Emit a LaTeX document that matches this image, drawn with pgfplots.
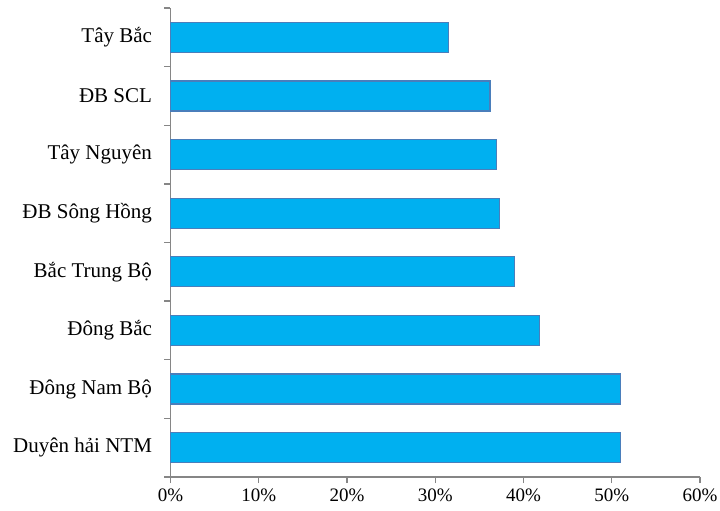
\documentclass[border=0pt]{standalone}
\usepackage{pgfplots}
\pgfplotsset{compat=1.18}
\usetikzlibrary{calc}
\usepackage{fontspec}
\setmainfont{Liberation Serif}
\definecolor{barfill}{HTML}{00B0F0}
\definecolor{barline}{HTML}{4A7EBB}
\definecolor{axisgray}{HTML}{868686}
\begin{document}
\begin{tikzpicture}
\begin{axis}[
  scale only axis,
  width=529.5bp, height=469bp,
  xmin=0, xmax=60,
  ymin=0.5, ymax=8.5,
  axis x line*=bottom,
  axis y line*=left,
  axis line style={axisgray, line width=1.3bp},
  xtick={0,10,...,60},
  xticklabel={\pgfmathprintnumber{\tick}\%},
  /pgf/number format/assume math mode=true,
  % ticks sit between the categories; each name is lifted to its bar
  ytick={0.5,1.5,...,8.5},
  yticklabels={Duyên hải NTM, Đông Nam Bộ, Đông Bắc, Bắc Trung Bộ, ĐB Sông Hồng, Tây Nguyên, ĐB SCL, Tây Bắc, {}},
  tick align=outside,
  major tick length=6bp,
  every tick/.style={axisgray, line width=1.3bp},
  yticklabel style={font=\fontsize{21bp}{25bp}\selectfont, xshift=-9bp, yshift=29.3bp},
  xticklabel style={font=\fontsize{19bp}{23bp}\selectfont, yshift=-2bp},
  xbar, bar width=30bp, bar shift=0pt,
  clip=false,
]
\coordinate (o) at (rel axis cs:0,0);
\addplot[fill=barfill, draw=barline, line width=1.2bp] coordinates {
  (51.0,1) (51.0,2) (41.8,3) (39.0,4) (37.3,5) (36.9,6) (36.2,7) (31.5,8)
};
\end{axis}
\pgfresetboundingbox
\path[use as bounding box] ($(o)+(-170.5bp,-34bp)$) rectangle ++(720bp,511bp);
\end{tikzpicture}
\end{document}
